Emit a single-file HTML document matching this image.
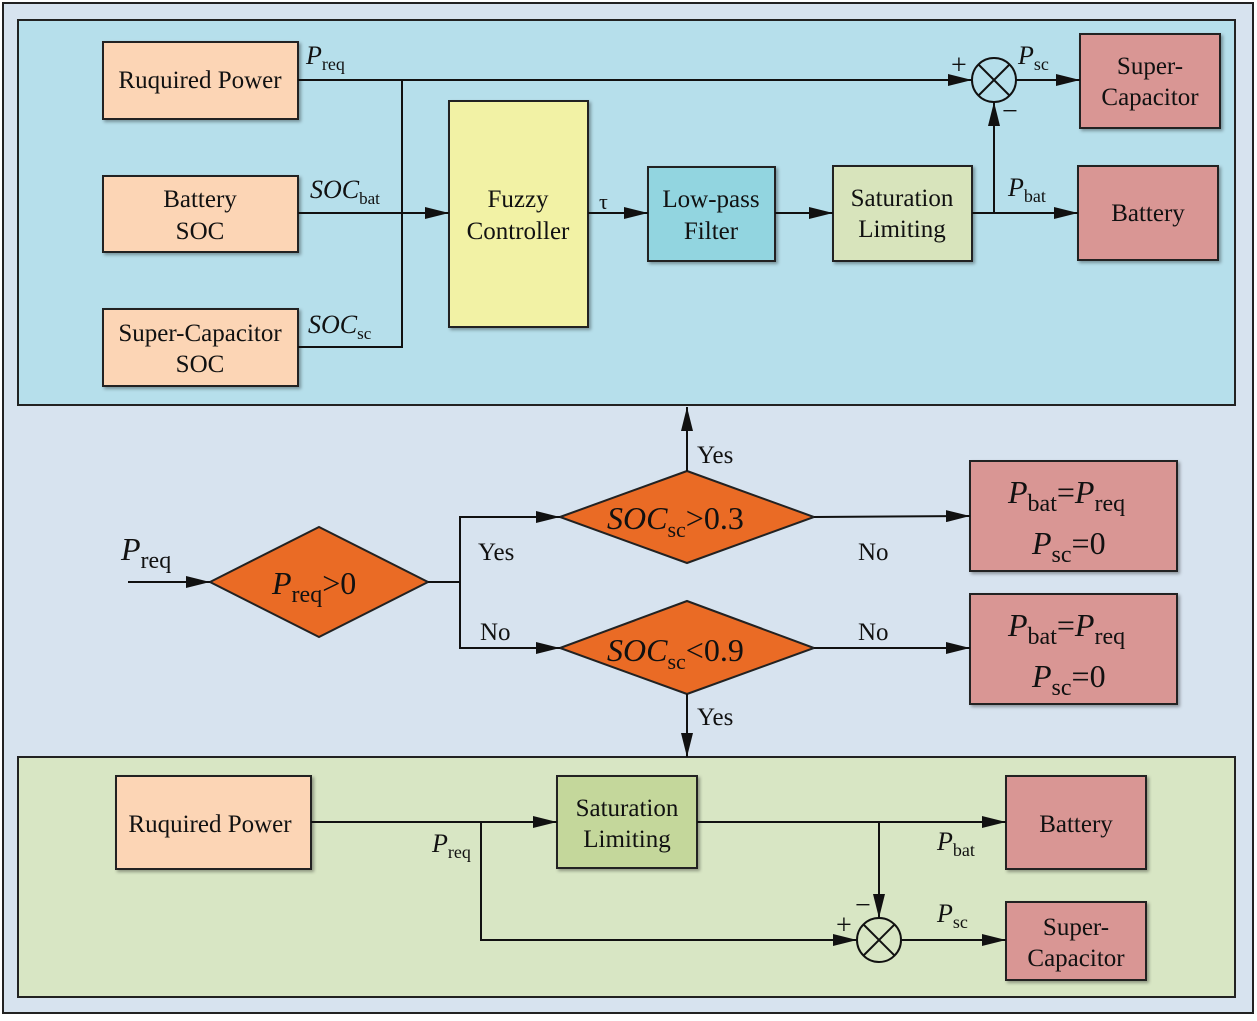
<!DOCTYPE html><html><head><style>body{margin:0;background:#fff}text{font-family:"Liberation Serif",serif;fill:#111}</style></head><body>
<svg width="1257" height="1016" viewBox="0 0 1257 1016" xmlns="http://www.w3.org/2000/svg">
<defs>
<marker id="b" viewBox="0 0 24 12" markerWidth="24" markerHeight="12" refX="24" refY="6" orient="auto" markerUnits="userSpaceOnUse"><path d="M0,0L24,6L0,12z" fill="#111"/></marker>
<filter id="s"><feDropShadow dx="2" dy="2" stdDeviation="1.5" flood-opacity="0.35"/></filter></defs>
<rect x="3" y="3" width="1250" height="1010" fill="#d7e3ef" stroke="#222" stroke-width="2"/>
<rect x="18" y="20" width="1217" height="385" fill="#b6dfeb" stroke="#222" stroke-width="2"/>
<rect x="18" y="757" width="1217" height="240" fill="#d8e6c4" stroke="#222" stroke-width="2"/>
<g stroke="#222" stroke-width="2" filter="url(#s)">
<rect x="103" y="42" width="195" height="77" fill="#fcd5b5"/>
<rect x="103" y="176" width="195" height="76" fill="#fcd5b5"/>
<rect x="103" y="309" width="195" height="77" fill="#fcd5b5"/>
<rect x="449" y="101" width="139" height="226" fill="#f2f2a5"/>
<rect x="648" y="167" width="127" height="94" fill="#92d5e0"/>
<rect x="833" y="166" width="139" height="95" fill="#d8e4bc"/>
<rect x="1080" y="34" width="140" height="94" fill="#d99694"/>
<rect x="1078" y="166" width="140" height="94" fill="#d99694"/>
<rect x="970" y="461" width="207" height="110" fill="#d99694"/>
<rect x="970" y="594" width="207" height="110" fill="#d99694"/>
<rect x="116" y="776" width="195" height="93" fill="#fcd5b5"/>
<rect x="557" y="776" width="140" height="92" fill="#c4d79b"/>
<rect x="1006" y="776" width="140" height="93" fill="#d99694"/>
<rect x="1006" y="902" width="140" height="78" fill="#d99694"/>
</g>
<g stroke="#222" stroke-width="2" fill="#ea6b25">
<path d="M210,582L319,527L428,582L319,637z"/>
<path d="M560,517L687,471L814,517L687,563z"/>
<path d="M560,648L687,601L814,648L687,694z"/>
</g>
<g stroke="#111" stroke-width="2" fill="none">
<circle cx="994" cy="80" r="22"/><path d="M978,64L1010,96M1010,64L978,96"/>
<circle cx="879" cy="940" r="22"/><path d="M863,924L895,956M895,924L863,956"/>
<path d="M298,80H972" marker-end="url(#b)"/>
<path d="M402,80V347H298"/>
<path d="M298,213H449" marker-end="url(#b)"/>
<path d="M588,213H648" marker-end="url(#b)"/>
<path d="M775,213H833" marker-end="url(#b)"/>
<path d="M972,213H1078" marker-end="url(#b)"/>
<path d="M994,213V102" marker-end="url(#b)"/>
<path d="M1016,80H1080" marker-end="url(#b)"/>
<path d="M128,582H210" marker-end="url(#b)"/>
<path d="M428,582H460V517H560" marker-end="url(#b)"/>
<path d="M460,582V648H560" marker-end="url(#b)"/>
<path d="M687,471V407" marker-end="url(#b)"/>
<path d="M814,517L970,516" marker-end="url(#b)"/>
<path d="M814,648H970" marker-end="url(#b)"/>
<path d="M687,694V757" marker-end="url(#b)"/>
<path d="M311,822H557" marker-end="url(#b)"/>
<path d="M481,822V940H857" marker-end="url(#b)"/>
<path d="M697,822H1006" marker-end="url(#b)"/>
<path d="M879,822V918" marker-end="url(#b)"/>
<path d="M901,940H1006" marker-end="url(#b)"/>
</g>
<g font-size="25" text-anchor="middle">
<text x="200" y="88">Ruquired Power</text>
<text x="200" y="207">Battery</text><text x="200" y="239">SOC</text>
<text x="200" y="341">Super-Capacitor</text><text x="200" y="372">SOC</text>
<text x="518" y="207">Fuzzy</text><text x="518" y="239">Controller</text>
<text x="711" y="207">Low-pass</text><text x="711" y="239">Filter</text>
<text x="902" y="206">Saturation</text><text x="902" y="237">Limiting</text>
<text x="1150" y="74">Super-</text><text x="1150" y="105">Capacitor</text>
<text x="1148" y="221">Battery</text>
<text x="210" y="832">Ruquired Power</text>
<text x="627" y="816">Saturation</text><text x="627" y="847">Limiting</text>
<text x="1076" y="832">Battery</text>
<text x="1076" y="935">Super-</text><text x="1076" y="966">Capacitor</text>
</g>
<g font-size="25">
<text x="697" y="463">Yes</text><text x="478" y="560">Yes</text><text x="480" y="640">No</text>
<text x="858" y="560">No</text><text x="858" y="640">No</text><text x="697" y="725">Yes</text>
</g>
<g font-style="italic" font-size="26">
<text x="306" y="64">P<tspan font-size="18" font-style="normal" dy="6">req</tspan></text>
<text x="310" y="198">SOC<tspan font-size="17" font-style="normal" dy="6">bat</tspan></text>
<text x="308" y="333">SOC<tspan font-size="17" font-style="normal" dy="6">sc</tspan></text>
<text x="599" y="209" font-style="normal" font-size="22">τ</text>
<text x="1018" y="64">P<tspan font-size="18" font-style="normal" dy="6">sc</tspan></text>
<text x="1008" y="196">P<tspan font-size="18" font-style="normal" dy="6">bat</tspan></text>
<text x="432" y="852">P<tspan font-size="18" font-style="normal" dy="6">req</tspan></text>
<text x="937" y="850">P<tspan font-size="18" font-style="normal" dy="6">bat</tspan></text>
<text x="937" y="922">P<tspan font-size="18" font-style="normal" dy="6">sc</tspan></text>
<text x="121" y="560" font-size="32">P<tspan font-size="24" font-style="normal" dy="8">req</tspan></text>
<text x="272" y="594" font-size="32">P<tspan font-size="24" font-style="normal" dy="8">req</tspan><tspan font-style="normal" dy="-8">&gt;0</tspan></text>
<text x="607" y="529" font-size="32">SOC<tspan font-size="22" font-style="normal" dy="8">sc</tspan><tspan font-style="normal" dy="-8">&gt;0.3</tspan></text>
<text x="607" y="661" font-size="32">SOC<tspan font-size="22" font-style="normal" dy="8">sc</tspan><tspan font-style="normal" dy="-8">&lt;0.9</tspan></text>
<text x="1008" y="503" font-size="32">P<tspan font-size="24" font-style="normal" dy="8">bat</tspan><tspan font-style="normal" dy="-8">=</tspan>P<tspan font-size="24" font-style="normal" dy="8">req</tspan></text>
<text x="1032" y="554" font-size="32">P<tspan font-size="24" font-style="normal" dy="8">sc</tspan><tspan font-style="normal" dy="-8">=0</tspan></text>
<text x="1008" y="636" font-size="32">P<tspan font-size="24" font-style="normal" dy="8">bat</tspan><tspan font-style="normal" dy="-8">=</tspan>P<tspan font-size="24" font-style="normal" dy="8">req</tspan></text>
<text x="1032" y="687" font-size="32">P<tspan font-size="24" font-style="normal" dy="8">sc</tspan><tspan font-style="normal" dy="-8">=0</tspan></text>
</g>
<g font-size="28" font-family="Liberation Sans">
<text x="951" y="74">+</text><text x="1002" y="120">−</text>
<text x="836" y="934">+</text><text x="855" y="914">−</text>
</g>
</svg></body></html>
